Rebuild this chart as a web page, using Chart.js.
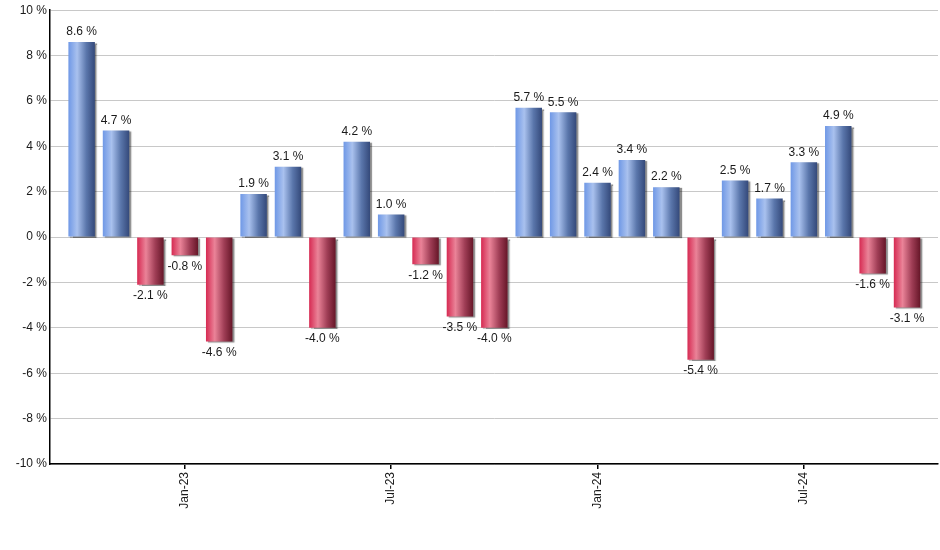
<!DOCTYPE html>
<html>
<head>
<meta charset="utf-8">
<script src="https://cdn.jsdelivr.net/npm/chart.js@4/dist/chart.umd.min.js"></script>
<style>
  html, body { margin: 0; padding: 0; background: #fff; }
  #wrap { width: 940px; height: 550px; }
</style>
</head>
<body>
<div id="wrap"><canvas id="myChart"></canvas></div>
<script>
// monthly returns, Oct-22 .. Oct-24
const months = ['Oct-22', 'Nov-22', 'Dec-22', 'Jan-23', 'Feb-23', 'Mar-23', 'Apr-23', 'May-23', 'Jun-23',
    'Jul-23', 'Aug-23', 'Sep-23', 'Oct-23', 'Nov-23', 'Dec-23', 'Jan-24', 'Feb-24', 'Mar-24', 'Apr-24',
    'May-24', 'Jun-24', 'Jul-24', 'Aug-24', 'Sep-24', 'Oct-24'];
const returns = [8.6, 4.7, -2.1, -0.8, -4.6, 1.9, 3.1, -4.0, 4.2, 1.0, -1.2, -3.5, -4.0,
    5.7, 5.5, 2.4, 3.4, 2.2, -5.4, 2.5, 1.7, 3.3, 4.9, -1.6, -3.1];
const labelMonths = ['Jan-23', 'Jul-23', 'Jan-24', 'Jul-24'];
const yTicks = [-10, -8, -6, -4, -2, 0, 2, 4, 6, 8, 10];

const BAR_PCT = 0.77;
const FONT = "'Liberation Sans', Arial, sans-serif";

const blueStops = ['#6f98e6', '#a9c1ee', '#5a76ab', '#34497a'];
const redStops = ['#d62a52', '#ea8398', '#a03e56', '#661628'];

const barGradient = (context) => {
    const v = context.raw ? context.raw.y : 0;
    const stops = v >= 0 ? blueStops : redStops;
    const chart = context.chart;
    const xs = chart.scales.x;
    if (!xs || !chart.chartArea) return stops[0];
    const cx = xs.getPixelForValue(context.dataIndex);
    const half = (xs.getPixelForValue(1) - xs.getPixelForValue(0)) * BAR_PCT / 2;
    const g = chart.ctx.createLinearGradient(cx - half, 0, cx + half, 0);
    g.addColorStop(0, stops[0]);
    g.addColorStop(0.33, stops[1]);
    g.addColorStop(0.68, stops[2]);
    g.addColorStop(1, stops[3]);
    return g;
};

// soft shadow on the bars, then value labels on top
const barDecor = {
    id: 'barDecor',
    beforeDatasetsDraw(chart) {
        const ctx = chart.ctx;
        ctx.save();
        ctx.shadowColor = 'rgba(0,0,0,0.45)';
        ctx.shadowOffsetX = 2;
        ctx.shadowOffsetY = 1;
        ctx.shadowBlur = 1;
    },
    afterDatasetsDraw(chart) {
        const ctx = chart.ctx;
        ctx.restore();
        const meta = chart.getDatasetMeta(0);
        ctx.save();
        ctx.font = '12px ' + FONT;
        ctx.fillStyle = '#1a1a1a';
        ctx.textAlign = 'center';
        meta.data.forEach((bar, i) => {
            const v = returns[i];
            const text = v.toFixed(1) + ' %';
            if (v >= 0) {
                ctx.textBaseline = 'bottom';
                ctx.fillText(text, bar.x, bar.y - 4);
            } else {
                ctx.textBaseline = 'top';
                ctx.fillText(text, bar.x, bar.y + 5);
            }
        });
        ctx.restore();
    }
};

new Chart(document.querySelector('#myChart'), {
    type: 'bar',
    data: {
        datasets: [{
            data: returns.map((v, i) => ({ x: i, y: v })),
            backgroundColor: barGradient,
            borderWidth: 0,
            barPercentage: BAR_PCT,
            categoryPercentage: 1
        }]
    },
    options: {
        responsive: true,
        maintainAspectRatio: false,
        animation: false,
        layout: { padding: { top: 9, right: 2, left: 0, bottom: 0 } },
        plugins: { legend: { display: false }, tooltip: { enabled: false } },
        scales: {
            x: {
                type: 'linear',
                min: -0.92,
                max: 24.9,
                offset: false,
                afterBuildTicks: (scale) => {
                    scale.ticks = labelMonths.map(m => ({ value: months.indexOf(m) }));
                },
                afterFit: (scale) => { scale.height = 86; },
                ticks: {
                    autoSkip: false,
                    minRotation: 90,
                    maxRotation: 90,
                    padding: 3,
                    color: '#1a1a1a',
                    font: { family: FONT, size: 12 },
                    callback: (v) => months[v]
                },
                grid: { offset: false, drawOnChartArea: false, color: '#000', tickLength: 5, lineWidth: 1.5 },
                border: { color: '#000', width: 1.5 }
            },
            y: {
                min: -10,
                max: 10,
                afterBuildTicks: (scale) => {
                    scale.ticks = yTicks.map(v => ({ value: v }));
                },
                afterFit: (scale) => { scale.width = 50; },
                ticks: {
                    padding: 3,
                    color: '#1a1a1a',
                    font: { family: FONT, size: 12 },
                    callback: (v) => v + ' %'
                },
                grid: { color: '#c8c8c8', drawTicks: false, lineWidth: 1 },
                border: { color: '#000', width: 1.5 }
            }
        }
    },
    plugins: [barDecor]
});
</script>
</body>
</html>
